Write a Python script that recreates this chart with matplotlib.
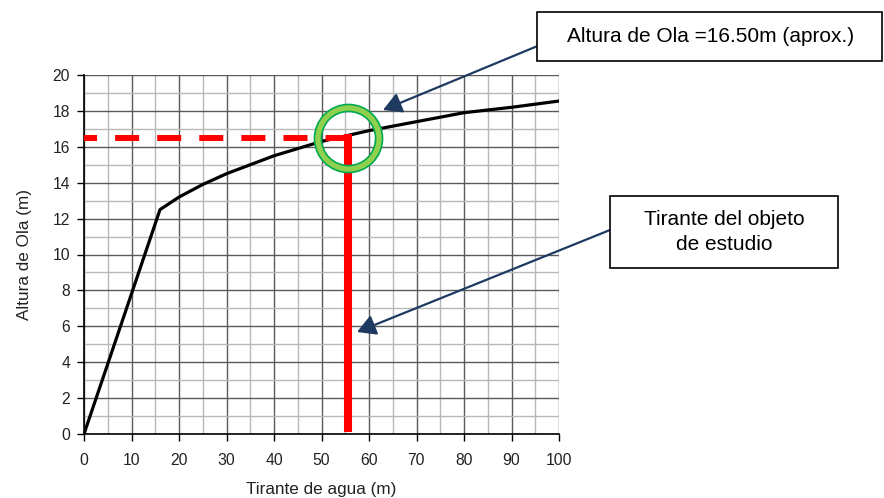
import matplotlib
matplotlib.use("Agg")
import matplotlib.pyplot as plt
from matplotlib.patches import Rectangle
from matplotlib.ticker import MultipleLocator

plt.rcParams['font.family'] = ['Liberation Sans', 'DejaVu Sans']
plt.rcParams['lines.scale_dashes'] = False

# ---- data ----
depth = [0, 16, 20, 25, 30, 35, 40, 45, 50, 55, 60, 70, 80, 90, 100]
wave_height = [0, 12.5, 13.2, 13.9, 14.5, 15.0, 15.5, 15.9, 16.3, 16.6, 16.9, 17.4, 17.9, 18.2, 18.55]
study_depth = 55.5
study_wave = 16.5
x_ticks = [0, 10, 20, 30, 40, 50, 60, 70, 80, 90, 100]
y_ticks = [0, 2, 4, 6, 8, 10, 12, 14, 16, 18, 20]
xlabel = "Tirante de agua (m)"
ylabel = "Altura de Ola (m)"
note_wave = "Altura de Ola =16.50m (aprox.)"
note_depth = "Tirante del objeto\nde estudio"

W, H = 884, 498
fig = plt.figure(figsize=(W / 100, H / 100), dpi=100)
ax = fig.add_axes([84 / W, 1 - 434 / H, (559 - 84) / W, (434 - 75) / H])

ax.set_xlim(0, 100)
ax.set_ylim(0, 20)
ax.set_xticks(x_ticks)
ax.set_yticks(y_ticks)
ax.xaxis.set_minor_locator(MultipleLocator(5))
ax.yaxis.set_minor_locator(MultipleLocator(1))
ax.grid(which='major', color='#5a5a5a', linewidth=1.0, zorder=0)
ax.grid(which='minor', color='#b8b8b8', linewidth=1.0, zorder=0)
ax.set_axisbelow(True)
ax.tick_params(which='minor', length=0)
ax.tick_params(axis='x', which='major', pad=9)
ax.tick_params(axis='y', which='major', pad=5)
ax.tick_params(which='major', direction='out', length=5, width=1, color='black',
               labelsize=11.3, labelcolor='#222222')
for s in ['top', 'right']:
    ax.spines[s].set_visible(False)
for s in ['left', 'bottom']:
    ax.spines[s].set_color('black')
    ax.spines[s].set_linewidth(1.2)

ax.set_xlabel(xlabel, fontsize=12.3, color='#222222', labelpad=10)
ax.set_ylabel(ylabel, fontsize=12.3, color='#222222', labelpad=15)

# curve
ax.plot(depth, wave_height, color='black', linewidth=2.3, zorder=3, solid_capstyle='round')

# red dashed horizontal
ax.plot([0, study_depth], [study_wave, study_wave], color='#ff0000', linewidth=4.3,
        linestyle=(7.9, (17.3, 13.0)), dash_capstyle='butt', zorder=4, clip_on=False)
# red vertical
ax.plot([study_depth, study_depth], [0.12, study_wave + 0.2], color='#ff0000',
        linewidth=5.8, solid_capstyle='butt', zorder=4)

# green circle
ax.plot([study_depth], [study_wave], marker='o', markersize=44, markerfacecolor='none',
        markeredgecolor='#00a850', markeredgewidth=6.2, zorder=5, clip_on=False)
ax.plot([study_depth], [study_wave], marker='o', markersize=44, markerfacecolor='none',
        markeredgecolor='#8fd14f', markeredgewidth=3.8, zorder=6, clip_on=False)

# annotation boxes
def fx(px):
    return px / W

def fy(py):
    return 1 - py / H

arrow_col = '#1f3a60'
for (tx, ty, hx, hy) in [(540, 45, 383, 110), (610, 230, 357, 332)]:
    fig.add_artist(plt.Annotation('', xy=(fx(hx), fy(hy)), xytext=(fx(tx), fy(ty)),
                                  xycoords='figure fraction', textcoords='figure fraction',
                                  arrowprops=dict(arrowstyle='-|>,head_length=0.8,head_width=0.45',
                                                  color=arrow_col, lw=1.6,
                                                  shrinkA=0, shrinkB=0, mutation_scale=14)))

fig.add_artist(Rectangle((fx(537), fy(61)), (882 - 537) / W, (61 - 12) / H,
                         transform=fig.transFigure, facecolor='white', edgecolor='black',
                         linewidth=1.2, zorder=10))
fig.text(fx(711), fy(37), note_wave, ha='center', va='center', fontsize=15,
         color='black', zorder=11)

fig.add_artist(Rectangle((fx(610), fy(268)), (838 - 610) / W, (268 - 196) / H,
                         transform=fig.transFigure, facecolor='white', edgecolor='black',
                         linewidth=1.2, zorder=10))
fig.text(fx(724), fy(232), note_depth, ha='center', va='center', fontsize=15,
         color='black', linespacing=1.4, zorder=11)

fig.savefig('out.png', dpi=100)
